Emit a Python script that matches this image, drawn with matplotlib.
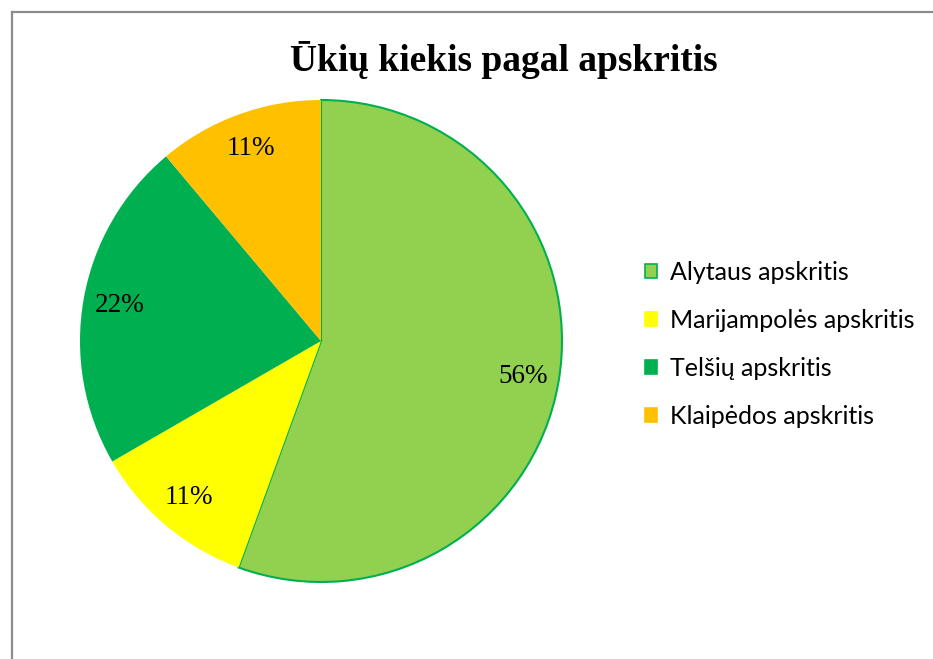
import matplotlib
matplotlib.use("Agg")
import matplotlib.pyplot as plt
from matplotlib.patches import Patch
from matplotlib.lines import Line2D

# data
categories = ["Alytaus apskritis", "Marijampolės apskritis", "Telšių apskritis", "Klaipėdos apskritis"]
counts = [5, 1, 2, 1]
colors = ["#92D050", "#FFFF00", "#00B050", "#FFC000"]
title = "Ūkių kiekis pagal apskritis"

W, H = 933, 659
fig = plt.figure(figsize=(W / 100, H / 100), dpi=100)
fig.patch.set_facecolor("white")

# chart frame (top and left edges visible)
frame_col = "#8c8c8c"
fig.add_artist(Line2D([12 / W, 1.0], [1 - 12 / H, 1 - 12 / H], color=frame_col, lw=1.6,
                      transform=fig.transFigure))
fig.add_artist(Line2D([12 / W, 12 / W], [0.0, 1 - 12 / H], color=frame_col, lw=1.6,
                      transform=fig.transFigure))

# pie axes: centre (321, 341), radius 241 px
cx, cy, r = 321, 341, 241
ax = fig.add_axes([(cx - r) / W, (H - cy - r) / H, 2 * r / W, 2 * r / H])
wedges, texts, autotexts = ax.pie(
    counts, colors=colors, startangle=90, counterclock=False,
    autopct=lambda p: f"{p:.0f}%", pctdistance=0.85, radius=1.0,
    wedgeprops=dict(linewidth=0),
    textprops=dict(family="Liberation Serif", fontsize=19.5, color="black"),
)
wedges[0].set_edgecolor("#00B050")
wedges[0].set_linewidth(1.5)
ax.set_xlim(-1.0, 1.0)
ax.set_ylim(-1.0, 1.0)
ax.set_aspect("equal")
ax.axis("off")

fig.text(504 / W, 1 - 60 / H, title, ha="center", va="center",
         family="Liberation Serif", fontweight="bold", fontsize=27)

handles = [Patch(facecolor=c, edgecolor=("#00B050" if i == 0 else c), linewidth=1.2)
           for i, c in enumerate(colors)]
leg = fig.legend(handles, categories, loc="upper left", bbox_to_anchor=(645 / W, 1 - 261 / H),
                 frameon=False, prop=dict(family="Lato", size=18),
                 handlelength=0.48, handleheight=0.48, handletextpad=0.52,
                 labelspacing=1.0, borderpad=0, borderaxespad=0)

fig.savefig("out.png", dpi=100, facecolor="white")
